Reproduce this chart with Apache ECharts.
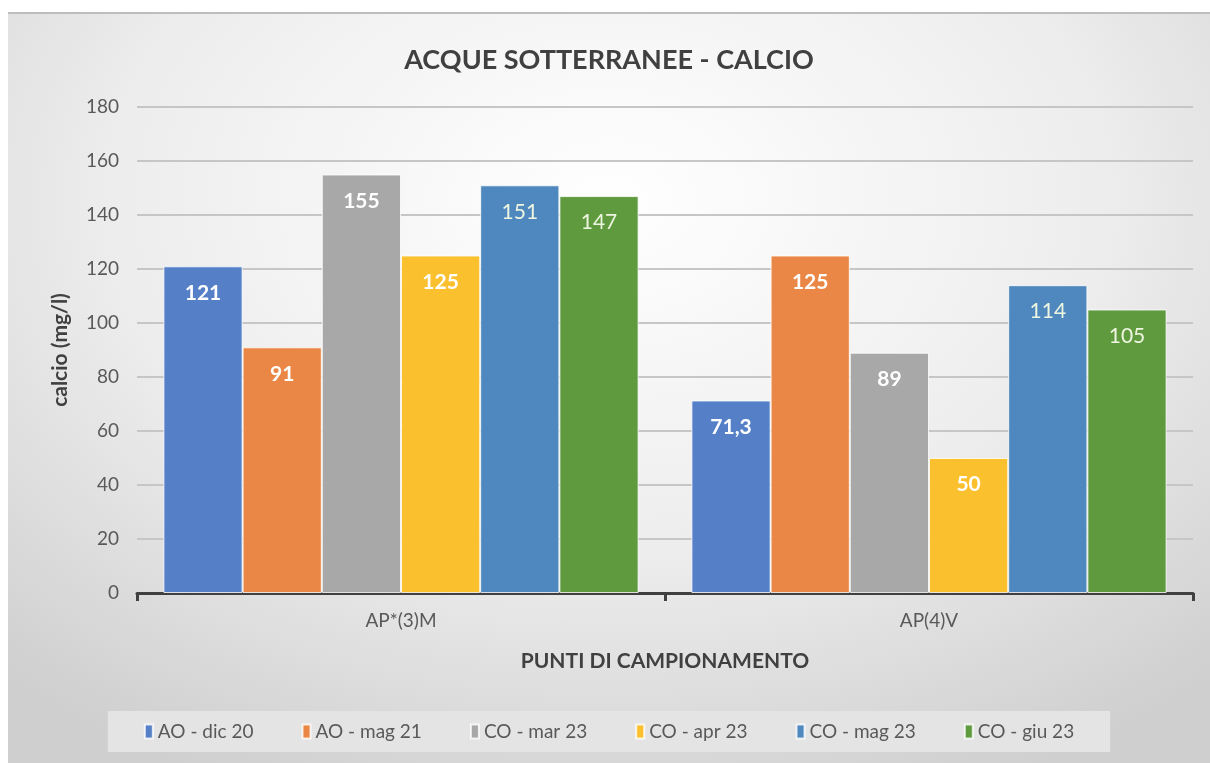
<!DOCTYPE html>
<html><head><meta charset="utf-8">
<script src="https://cdn.jsdelivr.net/npm/echarts@6/dist/echarts.min.js"></script>
<style>
html,body{margin:0;padding:0;background:#fff;width:1210px;height:763px;overflow:hidden;}
#c{position:absolute;left:8px;top:12px;width:1202px;height:751px;
background:radial-gradient(ellipse 75% 85% at 50% 25%, #ffffff 0%, #ededed 55%, #cfcfcf 100%);
border-top:2px solid #bdbdbd;box-sizing:border-box;}
</style></head><body><div id="c"></div>
<script>
const categories = ['AP*(3)M', 'AP(4)V'];
const seriesNames = ['AO - dic 20', 'AO - mag 21', 'CO - mar 23', 'CO - apr 23', 'CO - mag 23', 'CO - giu 23'];
const aoDic20 = [121, 71.3];
const aoMag21 = [91, 125];
const coMar23 = [155, 89];
const coApr23 = [125, 50];
const coMag23 = [151, 114];
const coGiu23 = [147, 105];
const yTicks = [0, 20, 40, 60, 80, 100, 120, 140, 160, 180];

const values = [aoDic20, aoMag21, coMar23, coApr23, coMag23, coGiu23];
const colors = ['#5580C8', '#EB8746', '#A8A8A8', '#FBC02D', '#4E88BE', '#5F9A3F'];
const boldLabel = [true, true, true, true, false, false];
const FONT = 'Lato, "Open Sans", sans-serif';

const chart = echarts.init(document.getElementById('c'), null, {renderer: 'canvas'});
chart.setOption({
  backgroundColor: 'transparent',
  textStyle: {fontFamily: FONT},
  title: {
    text: 'ACQUE SOTTERRANEE - CALCIO',
    left: 'center', top: 28,
    textStyle: {fontFamily: FONT, fontSize: 27, fontWeight: 'bold', color: '#404040'}
  },
  grid: {left: 129, right: 17, top: 93, bottom: 170, containLabel: false},
  legend: {
    data: seriesNames,
    left: 'center', top: 697,
    itemWidth: 8, itemHeight: 14, itemGap: 48,
    padding: [11, 36, 11, 36],
    backgroundColor: '#e4e4e4',
    icon: 'rect',
    textStyle: {fontFamily: FONT, fontSize: 19, color: '#595959'}
  },
  xAxis: {
    type: 'category', data: categories,
    name: 'PUNTI DI CAMPIONAMENTO', nameLocation: 'middle', nameGap: 58,
    nameTextStyle: {fontFamily: FONT, fontSize: 21, fontWeight: 'bold', color: '#404040'},
    axisLine: {lineStyle: {color: '#404040', width: 3}},
    axisTick: {show: true, alignWithLabel: false, length: 8, lineStyle: {color: '#404040', width: 3}},
    axisLabel: {fontFamily: FONT, fontSize: 19, color: '#595959', margin: 18}
  },
  yAxis: {
    type: 'value', min: 0, max: 180, interval: 20,
    name: 'calcio (mg/l)', nameLocation: 'middle', nameGap: 66, nameRotate: 90,
    nameTextStyle: {fontFamily: FONT, fontSize: 21, fontWeight: 'bold', color: '#404040'},
    axisLine: {show: false}, axisTick: {show: false},
    axisLabel: {fontFamily: FONT, fontSize: 19, color: '#595959', margin: 18,
      formatter: v => yTicks.includes(v) ? String(v) : ''},
    splitLine: {lineStyle: {color: '#c6c6c6', width: 2}}
  },
  series: seriesNames.map((n, i) => ({
    name: n, type: 'bar', data: values[i],
    barGap: '0%', barCategoryGap: '10%',
    itemStyle: {color: colors[i], borderColor: 'rgba(255,255,255,0.8)', borderWidth: 1},
    label: {
      show: true, position: 'insideTop', distance: 16,
      fontFamily: FONT, fontSize: 21,
      fontWeight: boldLabel[i] ? 'bold' : 'normal',
      color: boldLabel[i] ? '#ffffff' : '#eef5e0',
      formatter: p => String(p.value).replace('.', ',')
    }
  }))
});
</script></body></html>
